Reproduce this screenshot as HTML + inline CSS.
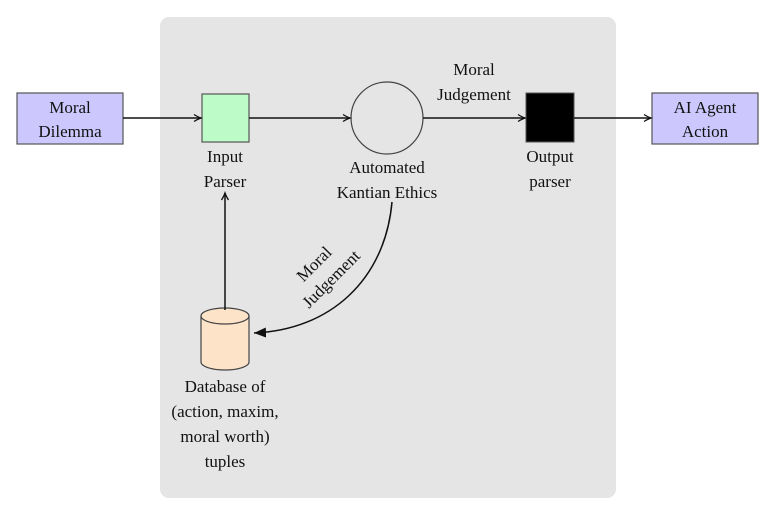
<!DOCTYPE html>
<html><head><meta charset="utf-8"><style>
html,body{margin:0;padding:0;background:#fff;}
svg{display:block;}
text{font-family:"Liberation Serif",serif;font-size:17px;fill:#111;text-anchor:middle;}
</style></head><body>
<svg width="778" height="507" viewBox="0 0 778 507" xmlns="http://www.w3.org/2000/svg">
<defs>
<marker id="a" markerWidth="10" markerHeight="10" refX="8" refY="5" orient="auto" markerUnits="userSpaceOnUse">
<path d="M1,1.5 Q5,4 8,5 Q5,6 1,8.5" fill="none" stroke="#111" stroke-width="1.3"/>
</marker>
<marker id="b" markerWidth="14" markerHeight="12" refX="12" refY="6" orient="auto" markerUnits="userSpaceOnUse">
<path d="M0,1 L12,6 L0,11 Z" fill="#111"/>
</marker>
</defs>
<rect x="160" y="17" width="456" height="481" rx="9" fill="#e5e5e5"/>
<rect x="17" y="93" width="106" height="51" fill="#ccc8fd" stroke="#555" stroke-width="1.2"/>
<text x="70" y="113">Moral</text><text x="70" y="137">Dilemma</text>
<rect x="202" y="94" width="47" height="48" fill="#bdfcc8" stroke="#555" stroke-width="1.2"/>
<circle cx="387" cy="118" r="36" fill="#e5e5e5" stroke="#444" stroke-width="1.2"/>
<rect x="526" y="93" width="48" height="49" fill="#000" stroke="#555" stroke-width="1"/>
<rect x="652" y="93" width="106" height="51" fill="#ccc8fd" stroke="#555" stroke-width="1.2"/>
<text x="705" y="113">AI Agent</text><text x="705" y="137">Action</text>
<line x1="123" y1="118" x2="201" y2="118" stroke="#111" stroke-width="1.5" marker-end="url(#a)"/>
<line x1="249" y1="118" x2="350" y2="118" stroke="#111" stroke-width="1.5" marker-end="url(#a)"/>
<line x1="423" y1="118" x2="525" y2="118" stroke="#111" stroke-width="1.5" marker-end="url(#a)"/>
<line x1="574" y1="118" x2="651" y2="118" stroke="#111" stroke-width="1.5" marker-end="url(#a)"/>
<text x="225" y="162">Input</text><text x="225" y="187">Parser</text>
<text x="387" y="173">Automated</text><text x="387" y="198">Kantian Ethics</text>
<text x="550" y="162">Output</text><text x="550" y="187">parser</text>
<text x="474" y="75">Moral</text><text x="474" y="100">Judgement</text>
<path d="M201,316 L201,362 A24,8 0 0 0 249,362 L249,316" fill="#fde3c8" stroke="#444" stroke-width="1.2"/>
<ellipse cx="225" cy="316" rx="24" ry="8" fill="#fde3c8" stroke="#444" stroke-width="1.2"/>
<line x1="225" y1="310" x2="225" y2="193" stroke="#111" stroke-width="1.5" marker-end="url(#a)"/>
<path d="M392,202 C385,280 330,330 254,333" fill="none" stroke="#111" stroke-width="1.5" marker-end="url(#b)"/>
<text transform="translate(318,268) rotate(-45)">Moral</text>
<text transform="translate(335,283) rotate(-45)">Judgement</text>
<text x="225" y="392">Database of</text>
<text x="225" y="417">(action, maxim,</text>
<text x="225" y="442">moral worth)</text>
<text x="225" y="467">tuples</text>
</svg>
</body></html>
